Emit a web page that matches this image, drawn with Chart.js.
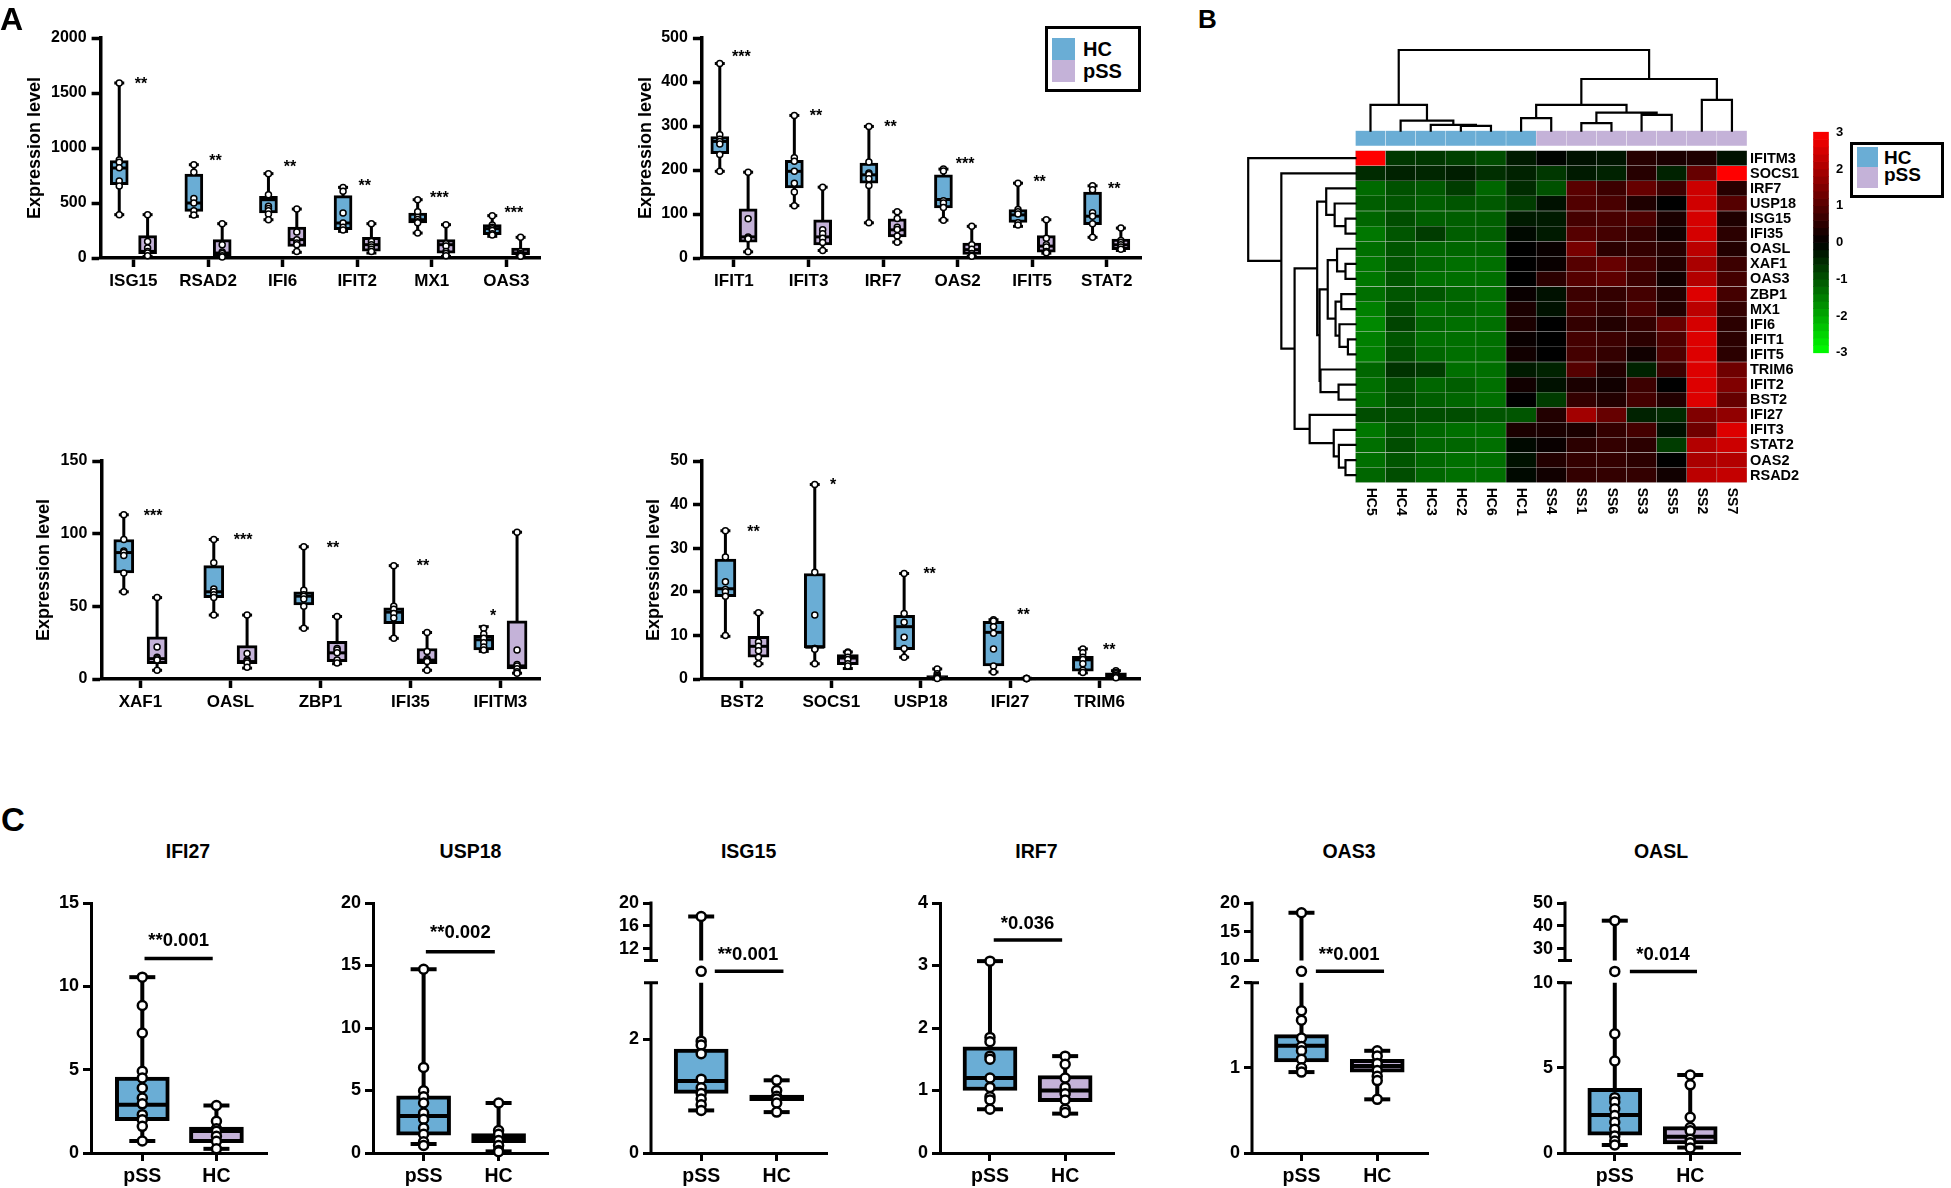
<!DOCTYPE html>
<html>
<head>
<meta charset="utf-8">
<title>ISG expression in pSS</title>
<script src="https://cdn.jsdelivr.net/npm/chart.js@4.4.1/dist/chart.umd.min.js"></script>
<style>
  body { margin: 0; width: 1951px; height: 1188px; background: #fff; position: relative; overflow: hidden;
         font-family: "Liberation Sans", Arial, sans-serif; font-weight: bold; color: #000; }
  canvas { position: absolute; }
  .txt { position: absolute; line-height: 1; white-space: nowrap; }
  .box { position: absolute; box-sizing: border-box; border: 3px solid #000; background: #fff; }
  .sw { position: absolute; }
</style>
</head>
<body>
<script>
// =================== data ===================

// box stats are [min, q1, median, q3, max]
const genesA1 = ["ISG15", "RSAD2", "IFI6", "IFIT2", "MX1", "OAS3"];
const hcBoxA1 = [[394, 667, 818, 885, 1591], [379, 424, 500, 764, 848], [348, 409, 530, 561, 767], [242, 258, 318, 567, 642], [227, 318, 348, 409, 530], [197, 212, 267, 303, 385]];
const pssBoxA1 = [[15, 40, 60, 203, 394], [10, 15, 45, 167, 312], [52, 106, 167, 282, 445], [45, 61, 121, 188, 312], [15, 45, 121, 167, 303], [15, 30, 45, 91, 188]];
const hcPtsA1 = [[1590, 890, 870, 820, 700, 655, 394], [848, 780, 542, 500, 430, 390], [767, 576, 470, 450, 430, 400, 348], [642, 606, 409, 318, 280, 255], [530, 420, 370, 350, 330, 320, 227], [385, 300, 280, 265, 250, 220, 210]];
const pssPtsA1 = [[394, 150, 90, 60, 45, 20], [312, 121, 55, 40, 20, 10], [445, 236, 167, 136, 120, 60], [312, 150, 120, 100, 80, 60], [303, 130, 110, 60, 40, 20], [188, 60, 40, 30, 20, 15]];
const starsA1 = ["**", "**", "**", "**", "***", "***"];
const starYA1 = [1621, 924, 864, 697, 582, 445];

const genesA2 = ["IFIT1", "IFIT3", "IRF7", "OAS2", "IFIT5", "STAT2"];
const hcBoxA2 = [[197, 237, 265, 276, 442], [119, 159, 197, 222, 324], [80, 170, 189, 216, 299], [86, 114, 133, 189, 202], [72, 81, 98, 110, 170], [47, 76, 95, 150, 164]];
const pssBoxA2 = [[14, 36, 48, 112, 195], [17, 30, 48, 87, 161], [36, 48, 64, 89, 105], [4, 8, 19, 34, 72], [11, 13, 27, 51, 87], [17, 19, 30, 43, 68]];
const hcPtsA2 = [[442, 280, 270, 265, 259, 235, 197], [324, 228, 220, 197, 170, 150, 119], [299, 218, 193, 190, 180, 165, 80], [202, 198, 130, 125, 115, 86], [170, 110, 105, 100, 80, 75], [164, 155, 103, 95, 78, 47]];
const pssPtsA2 = [[195, 89, 48, 45, 44, 14], [161, 64, 55, 45, 35, 17], [105, 90, 70, 65, 50, 36], [72, 30, 20, 10, 6, 4], [87, 45, 30, 25, 15, 12], [68, 40, 35, 30, 25, 20]];
const starsA2 = ["***", "**", "**", "***", "**", "**"];
const starYA2 = [466, 333, 307, 223, 182, 167];

const genesA3 = ["XAF1", "OASL", "ZBP1", "IFI35", "IFITM3"];
const hcBoxA3 = [[60, 73, 87, 96, 113], [44, 56, 60, 78, 96], [35, 51, 57, 60, 91], [28, 38, 46, 49, 78], [19, 20, 27, 30, 36]];
const pssBoxA3 = [[6, 10.5, 14, 29, 56], [7.5, 10.5, 12, 23, 44], [10.5, 12, 18, 26, 43], [6, 10.5, 13, 21, 32], [4, 7, 9, 40, 101]];
const hcPtsA3 = [[113, 96, 88, 87, 85, 73, 60], [96, 80, 62, 60, 58, 56, 44], [91, 61, 58, 57, 55, 50, 35], [78, 50, 48, 45, 42, 28], [35, 31, 28, 25, 22, 20]];
const pssPtsA3 = [[56, 22, 15, 14, 13, 6], [44, 17.5, 13, 12, 11, 8], [43, 21, 20, 18, 13, 11], [32, 19, 14, 13, 12, 6], [101, 20, 10, 9, 7, 5, 4]];
const starsA3 = ["***", "***", "**", "**", "*"];
const starYA3 = [115, 98.5, 93, 81, 46];

const genesA4 = ["BST2", "SOCS1", "USP18", "IFI27", "TRIM6"];
const hcBoxA4 = [[9.8, 18.9, 20.7, 27.5, 34], [3.5, 7.1, 7.3, 24.2, 44.6], [5, 6.7, 12, 14.6, 24.2], [1.6, 3, 10.7, 13.2, 13.6], [1.4, 1.8, 4.4, 5.2, 6.9]];
const pssBoxA4 = [[3.5, 5, 7.5, 9.8, 15.2], [2.4, 3.3, 4.8, 5.6, 6.2], [0, 0.15, 0.3, 0.8, 2.3], [0.05, 0.05, 0.1, 0.15, 0.2], [0.2, 0.5, 0.8, 1.4, 1.9]];
const hcPtsA4 = [[34, 28, 22.3, 20.5, 20, 19, 10], [44.6, 24.5, 14.7, 7, 7, 6.8, 3.5], [24.2, 15, 13, 9.6, 7, 5], [13.6, 13.3, 12, 10.5, 6.9, 3, 1.6], [6.9, 6, 5, 4.5, 3.5, 2, 1.5]];
const pssPtsA4 = [[15.2, 8.5, 7.5, 6.5, 5, 3.5], [6.2, 6, 5, 4.5, 3.5, 3], [2.3, 1.2, 0.8, 0.5, 0.3, 0.1], [0.1, 0.1, 0.1, 0.1, 0.1], [1.9, 1.5, 1.2, 0.8, 0.5, 0.3]];
const starsA4 = ["**", "*", "**", "**", "**"];
const starYA4 = [34.8, 45.4, 25, 15.6, 7.6];

// heatmap (z-scores), rows top to bottom, columns left to right
const heatCols = ["HC5", "HC4", "HC3", "HC2", "HC6", "HC1", "SS4", "SS1", "SS6", "SS3", "SS5", "SS2", "SS7"];
const heatGroups = ["HC", "HC", "HC", "HC", "HC", "HC", "pSS", "pSS", "pSS", "pSS", "pSS", "pSS", "pSS"];
const heatRows = ["IFITM3", "SOCS1", "IRF7", "USP18", "ISG15", "IFI35", "OASL", "XAF1", "OAS3", "ZBP1", "MX1", "IFI6", "IFIT1", "IFIT5", "TRIM6", "IFIT2", "BST2", "IFI27", "IFIT3", "STAT2", "OAS2", "RSAD2"];
const heatValues = [
  [3.0, -0.65, -0.65, -0.75, -0.9, -0.3, -0.05, -0.2, -0.25, 0.45, 0.3, 0.35, -0.2],
  [-0.5, -0.4, -0.45, -0.35, -0.55, -0.4, -0.65, -0.3, -0.4, 0.45, -0.4, 1.2, 3.0],
  [-1.25, -0.95, -1.05, -0.7, -1.2, -0.5, -0.95, 1.05, 0.7, 1.2, 0.7, 2.4, 0.45],
  [-1.1, -1.0, -1.1, -1.0, -1.05, -0.7, -0.2, 0.95, 0.85, 0.35, 0.0, 2.45, 1.0],
  [-1.2, -0.9, -1.1, -1.1, -1.1, -0.3, -0.3, 0.8, 0.85, 0.9, 0.3, 2.5, 0.35],
  [-1.4, -1.0, -0.7, -1.1, -1.1, -0.1, -0.3, 1.0, 0.8, 0.6, 0.2, 2.5, 0.5],
  [-1.3, -1.0, -1.2, -1.2, -1.2, 0.0, 0.1, 1.4, 0.5, 0.6, 0.45, 2.2, 0.4],
  [-1.4, -1.0, -1.2, -1.3, -1.3, 0.0, 0.1, 1.0, 1.2, 0.8, 0.4, 2.0, 0.7],
  [-1.4, -1.0, -1.3, -1.3, -1.3, 0.0, 0.5, 1.0, 1.1, 0.7, 0.2, 2.1, 0.8],
  [-1.3, -1.0, -1.0, -1.2, -1.3, 0.1, -0.2, 0.7, 0.6, 0.8, 0.4, 2.6, 0.8],
  [-1.5, -0.9, -1.3, -1.2, -1.3, 0.3, -0.2, 0.8, 0.6, 0.9, 0.4, 2.2, 0.6],
  [-1.6, -0.8, -1.2, -1.3, -1.3, 0.3, 0.0, 0.6, 0.4, 0.6, 1.2, 2.5, 0.5],
  [-1.5, -1.0, -1.3, -1.3, -1.3, 0.1, 0.0, 0.8, 0.7, 0.5, 0.9, 2.6, 0.5],
  [-1.5, -0.9, -1.2, -1.3, -1.3, 0.2, 0.0, 0.8, 0.6, 0.2, 0.9, 2.6, 0.5],
  [-1.2, -0.6, -0.7, -1.3, -1.3, -0.3, -0.4, 1.0, 0.4, -0.4, 0.7, 2.6, 1.3],
  [-1.3, -0.9, -1.2, -1.1, -1.3, 0.2, -0.2, 0.3, 0.2, 0.7, 0.0, 2.6, 1.5],
  [-1.3, -0.9, -1.1, -1.2, -1.3, 0.0, -0.7, 0.6, 0.4, 0.8, 0.4, 2.6, 1.2],
  [-0.9, -0.9, -0.9, -0.9, -1.0, -1.0, 0.4, 1.9, 1.2, -0.4, -0.5, 1.5, 1.7],
  [-1.4, -1.0, -1.2, -1.3, -1.3, 0.3, 0.3, 0.3, 0.6, 0.8, -0.2, 1.3, 2.6],
  [-1.3, -0.9, -1.2, -1.2, -1.3, -0.1, 0.1, 0.5, 0.6, 0.5, -0.7, 2.1, 2.4],
  [-1.3, -1.0, -1.2, -1.3, -1.3, -0.2, 0.4, 0.6, 0.6, 0.5, 0.0, 2.0, 2.1],
  [-1.2, -0.9, -1.2, -1.3, -1.3, -0.1, 0.2, 0.6, 0.6, 0.6, 0.2, 2.2, 2.3]
];
// merges: [nodeA, nodeB, height]; nodes < n are leaves, n + k is merge k
const colMerges = [[3, 4, 0.31], [2, 13, 0.38], [1, 14, 0.66], [0, 15, 1.70], [5, 6, 0.82], [7, 8, 0.49], [9, 10, 1.04], [18, 19, 1.19], [17, 20, 1.70], [11, 12, 2.03], [21, 22, 3.42], [16, 23, 5.34]];
const rowMerges = [[4, 5, 0.33], [3, 22, 0.69], [2, 23, 0.97], [7, 8, 0.33], [6, 25, 0.61], [9, 10, 0.47], [12, 13, 0.25], [11, 28, 0.53], [27, 29, 0.66], [26, 30, 0.92],
  [15, 16, 0.56], [14, 32, 1.16], [31, 33, 1.19], [24, 34, 1.27], [20, 21, 0.33], [19, 36, 0.55], [18, 37, 0.72], [17, 38, 1.52], [35, 39, 2.02], [1, 40, 2.46], [0, 41, 3.56]];
const scaleTicks = [-3, -2, -1, 0, 1, 2, 3];

// panel C
const cGenes = ["IFI27", "USP18", "ISG15", "IRF7", "OAS3", "OASL"];
const cCats = ["pSS", "HC"];
const cPssBox = [[0.72, 1.94, 2.9, 4.55, 10.55], [0.72, 1.42, 2.97, 4.57, 14.7], [0.75, 1.05, 1.27, 1.83, 17.65], [0.70, 1.0, 1.20, 1.70, 3.07], [0.95, 1.07, 1.26, 1.39, 18.3], [0.47, 1.04, 2.23, 3.79, 42.3]];
const cHcBox = [[0.25, 0.62, 1.32, 1.55, 2.85], [0.13, 0.83, 1.24, 1.55, 4.0], [0.72, 0.92, 0.98, 1.02, 1.28], [0.63, 0.82, 1.0, 1.24, 1.55], [0.63, 0.95, 1.02, 1.10, 1.2], [0.32, 0.53, 0.95, 1.55, 4.58]];
const cPssPts = [
  [10.55, 8.85, 7.2, 4.9, 4.5, 3.9, 3.3, 2.95, 2.3, 2.0, 1.6, 0.72],
  [14.7, 6.84, 4.98, 4.5, 4.0, 3.2, 2.7, 2.0, 1.5, 0.9, 0.6],
  [17.65, 6.55, 1.97, 1.9, 1.75, 1.3, 1.15, 1.05, 0.95, 0.85, 0.75],
  [3.07, 1.85, 1.78, 1.55, 1.5, 1.2, 1.05, 0.9, 0.85, 0.7],
  [18.3, 6.06, 1.67, 1.56, 1.35, 1.25, 1.2, 1.1, 1.0, 0.95],
  [42.3, 17.6, 7.0, 5.4, 3.25, 3.0, 2.6, 2.2, 1.8, 1.4, 1.0, 0.7, 0.47]
];
const cHcPts = [
  [2.85, 1.9, 1.45, 1.3, 1.0, 0.7, 0.25],
  [4.0, 1.8, 1.5, 1.0, 0.6, 0.2, 0.1],
  [1.28, 1.1, 1.0, 0.95, 0.88, 0.72],
  [1.55, 1.42, 1.2, 1.05, 0.95, 0.85, 0.7, 0.65],
  [1.2, 1.14, 1.05, 0.97, 0.9, 0.85, 0.63],
  [4.58, 4.0, 2.1, 1.5, 1.3, 0.8, 0.6, 0.3]
];
const cSigText = ["**0.001", "**0.002", "**0.001", "*0.036", "**0.001", "*0.014"];
const cSigBarY = [11.67, 16.1, 6.55, 3.41, 6.06, 17.6];
const cSigTextY = [12.8, 17.7, 11.2, 3.69, 11.2, 28];
const cYMax = [15, 20, 20, 4, 20, 50];
const cYTicks = [[0, 5, 10, 15], [0, 5, 10, 15, 20], [0, 2, 12, 16, 20], [0, 1, 2, 3, 4], [0, 1, 2, 10, 15, 20], [0, 5, 10, 30, 40, 50]];
const cBreaks = [null, null, { lo: [0, 3], hi: [10, 20] }, null, { lo: [0, 2], hi: [10, 20] }, { lo: [0, 10], hi: [25, 50] }];

// =================== setup ===================

const FONT = '"Liberation Sans", Arial, sans-serif';
const HC_BLUE = "#6aadd5";
const PSS_LAV = "#c4b2d8";

Chart.defaults.font.family = FONT;
Chart.defaults.font.weight = "bold";
Chart.defaults.color = "#000";
Chart.defaults.animation = false;
Chart.defaults.responsive = false;
Chart.defaults.events = [];
Chart.defaults.plugins.legend.display = false;
Chart.defaults.plugins.tooltip.enabled = false;

const BREAKS = {};

// linear scale with a gap between a low and a high segment
class BrokenScale extends Chart.LinearScale {
  getPixelForValue(v) {
    if (v === null || v === undefined || isNaN(v)) return NaN;
    const b = BREAKS[this.chart.canvas.id];
    let f;
    if (v <= b.lo[1]) f = ((v - b.lo[0]) / (b.lo[1] - b.lo[0])) * b.split[0];
    else if (v >= b.hi[0]) f = b.split[1] + ((v - b.hi[0]) / (b.hi[1] - b.hi[0])) * (1 - b.split[1]);
    else f = b.split[0] + ((v - b.lo[1]) / (b.hi[0] - b.lo[1])) * (b.split[1] - b.split[0]);
    return this.getPixelForDecimal(f);
  }
  getValueForPixel(p) {
    const b = BREAKS[this.chart.canvas.id];
    const f = this.getDecimalForPixel(p);
    if (f <= b.split[0]) return b.lo[0] + (f / b.split[0]) * (b.lo[1] - b.lo[0]);
    if (f >= b.split[1]) return b.hi[0] + ((f - b.split[1]) / (1 - b.split[1])) * (b.hi[1] - b.hi[0]);
    return b.lo[1] + ((f - b.split[0]) / (b.split[1] - b.split[0])) * (b.hi[0] - b.lo[1]);
  }
}
BrokenScale.id = "broken";
BrokenScale.defaults = Chart.LinearScale.defaults;
Chart.register(BrokenScale);

function addCanvas(id, left, top, right, bottom) {
  const c = document.createElement("canvas");
  const l = Math.round(left), t = Math.round(top);
  c.id = id;
  c.width = Math.round(right) - l;
  c.height = Math.round(bottom) - t;
  c.style.left = l + "px";
  c.style.top = t + "px";
  document.body.appendChild(c);
  return c;
}

function addText(text, x, cy, size, center) {
  const d = document.createElement("div");
  d.className = "txt";
  d.textContent = text;
  d.style.fontSize = size + "px";
  d.style.top = (cy - size * 0.49) + "px";
  d.style.left = x + "px";
  if (center) d.style.transform = "translateX(-50%)";
  document.body.appendChild(d);
}

function addDiv(cls, left, top, w, h, bg, bw) {
  const d = document.createElement("div");
  d.className = cls;
  d.style.left = left + "px";
  d.style.top = top + "px";
  d.style.width = w + "px";
  d.style.height = h + "px";
  if (bg) d.style.background = bg;
  if (bw) d.style.borderWidth = bw + "px";
  document.body.appendChild(d);
}

function zColor(z) {
  const v = Math.round((255 * Math.min(Math.abs(z), 3)) / 3);
  return z >= 0 ? `rgb(${v},0,0)` : `rgb(0,${v},0)`;
}

// text drawn at data coordinates
function notesPlugin(items) {
  return {
    id: "notes",
    afterDatasetsDraw(chart) {
      const { ctx, scales } = chart;
      ctx.save();
      ctx.fillStyle = "#000";
      ctx.textAlign = "center";
      ctx.textBaseline = "alphabetic";
      items.forEach((n) => {
        ctx.font = `bold ${n.size}px ${FONT}`;
        ctx.fillText(n.text, scales.x.getPixelForValue(n.x), scales.y.getPixelForValue(n.y) + n.size * n.lift);
      });
      ctx.restore();
    },
  };
}

const brokenAxis = {
  id: "brokenAxis",
  afterDraw(chart) {
    const b = BREAKS[chart.canvas.id];
    if (!b) return;
    const y = chart.scales.y, ctx = chart.ctx, x0 = chart.chartArea.left;
    const p0 = y.getPixelForDecimal(0), p1 = y.getPixelForDecimal(b.split[0]);
    const p2 = y.getPixelForDecimal(b.split[1]), p3 = y.getPixelForDecimal(1);
    ctx.save();
    ctx.strokeStyle = "#000";
    ctx.lineWidth = 3;
    ctx.beginPath();
    ctx.moveTo(x0, p0 + 1.5); ctx.lineTo(x0, p1);
    ctx.moveTo(x0, p2); ctx.lineTo(x0, p3 - 1.5);
    ctx.moveTo(x0 - 7, p1); ctx.lineTo(x0 + 7, p1);
    ctx.moveTo(x0 - 7, p2); ctx.lineTo(x0 + 7, p2);
    ctx.stroke();
    ctx.restore();
  },
};

// =================== box plots ===================

function boxChart(o) {
  const [l, t, r, b] = o.area;
  const padTop = 22, padRight = 12;
  const cv = addCanvas(o.id, l - o.yW, t - padTop, r + padRight, b + o.xH);
  if (o.brk) BREAKS[o.id] = o.brk;

  const whisk = [], caps = [], meds = [], pts = [];
  o.boxes.forEach((bx) => {
    const [mn, q1, md, q3, mx] = bx.s;
    if (o.brk && mx > o.brk.hi[0]) {
      whisk.push({ x: bx.x, y: mn }, { x: bx.x, y: o.brk.lo[1] }, { x: bx.x, y: null },
                 { x: bx.x, y: o.brk.hi[0] }, { x: bx.x, y: mx }, { x: bx.x, y: null });
    } else {
      whisk.push({ x: bx.x, y: mn }, { x: bx.x, y: mx }, { x: bx.x, y: null });
    }
    caps.push({ x: bx.x, y: mn }, { x: bx.x, y: mx });
    meds.push({ x: bx.x, y: md });
    bx.p.forEach((v) => pts.push({ x: bx.x, y: v }));
  });

  const datasets = [
    { type: "scatter", data: pts, pointRadius: o.pr, pointBackgroundColor: "#fff", pointBorderColor: "#000", pointBorderWidth: o.pw, order: 0, clip: false },
    { type: "scatter", data: meds, pointStyle: "line", pointRadius: o.barW / 2 - 1, pointBorderColor: "#000", pointBorderWidth: o.lw, order: 1, clip: false },
    { type: "bar", data: o.boxes.map((bx) => ({ x: bx.x, y: [bx.s[1], bx.s[3]] })), backgroundColor: o.boxes.map((bx) => bx.c),
      borderColor: "#000", borderWidth: o.lw, borderSkipped: false, barThickness: o.barW, grouped: false, order: 2 },
    { type: "scatter", data: caps, pointStyle: "line", pointRadius: o.capR, pointBorderColor: "#000", pointBorderWidth: o.lw, order: 3, clip: false },
    { type: "line", data: whisk, borderColor: "#000", borderWidth: o.lw, pointRadius: 0, spanGaps: false, order: 4, clip: false },
  ];
  if (o.sig) {
    datasets.push({ type: "line", data: [{ x: o.sig.x0, y: o.sig.y }, { x: o.sig.x1, y: o.sig.y }],
      borderColor: "#000", borderWidth: 3.5, pointRadius: 0, order: 0, clip: false });
  }

  new Chart(cv, {
    type: "bar",
    data: { datasets },
    options: {
      layout: { padding: { top: padTop, right: padRight, left: 0, bottom: 0 } },
      scales: {
        x: {
          type: "linear", min: o.xr[0], max: o.xr[1], offset: false,
          afterBuildTicks: (ax) => { ax.ticks = o.cats.map((c, i) => ({ value: i })); },
          afterFit: (ax) => { ax.height = o.xH; },
          ticks: { autoSkip: false, maxRotation: 0, padding: o.catPad, font: { size: o.catFont, weight: "bold" }, callback: (v) => o.cats[v] },
          grid: { offset: false, drawOnChartArea: false, drawTicks: true, tickLength: o.tl, tickWidth: o.aw, tickColor: "#000" },
          border: { display: true, width: o.aw, color: "#000" },
        },
        y: {
          type: o.brk ? "broken" : "linear", min: o.yr[0], max: o.yr[1],
          afterBuildTicks: (ax) => { ax.ticks = o.yTicks.map((v) => ({ value: v })); },
          afterFit: (ax) => { ax.width = o.yW; },
          ticks: { padding: o.tickPad, font: { size: o.tickFont, weight: "bold" }, callback: (v) => String(v) },
          grid: { drawOnChartArea: false, drawTicks: true, tickLength: o.tl, tickWidth: o.aw, tickColor: "#000" },
          border: { display: !o.brk, width: o.aw, color: "#000" },
          title: { display: !!o.yTitle, text: o.yTitle || "", font: { size: 18, weight: "bold" }, padding: { top: 4, bottom: 4 }, color: "#000" },
        },
      },
    },
    plugins: [notesPlugin(o.notes || []), brokenAxis],
  });
}

function pairBoxes(hcBox, pssBox, hcPts, pssPts, off) {
  const out = [];
  hcBox.forEach((s, i) => {
    out.push({ x: i - off, s, p: hcPts[i], c: HC_BLUE });
    out.push({ x: i + off, s: pssBox[i], p: pssPts[i], c: PSS_LAV });
  });
  return out;
}

function starNotes(stars, ys, dx) {
  return stars.map((t, i) => ({ x: i + dx[i], y: ys[i], text: t, size: 16, lift: 0.58 }));
}

const styleA = { aw: 3.5, tl: 9, tickPad: 5, catPad: 4, tickFont: 16, catFont: 17, capR: 5, lw: 3, pr: 3, pw: 1.5, xH: 45, yTitle: "Expression level" };

boxChart(Object.assign({}, styleA, {
  id: "a1", area: [100.8, 38.3, 540, 258.3], yW: 80.6, xr: [-0.44, 5.45], yr: [0, 2000], yTicks: [0, 500, 1000, 1500, 2000],
  cats: genesA1, barW: 18, boxes: pairBoxes(hcBoxA1, pssBoxA1, hcPtsA1, pssPtsA1, 0.19),
  notes: starNotes(starsA1, starYA1, [0.1, 0.1, 0.1, 0.1, 0.1, 0.1]),
}));
boxChart(Object.assign({}, styleA, {
  id: "a2", area: [701.8, 38.3, 1141, 258.3], yW: 70.9, xr: [-0.43, 5.46], yr: [0, 500], yTicks: [0, 100, 200, 300, 400, 500],
  cats: genesA2, barW: 18, boxes: pairBoxes(hcBoxA2, pssBoxA2, hcPtsA2, pssPtsA2, 0.19),
  notes: starNotes(starsA2, starYA2, [0.1, 0.1, 0.1, 0.1, 0.1, 0.1]),
}));
boxChart(Object.assign({}, styleA, {
  id: "a3", area: [100.8, 460.7, 540, 679.3], yW: 72.3, xr: [-0.435, 4.44], yr: [0, 150], yTicks: [0, 50, 100, 150],
  cats: genesA3, barW: 20, boxes: pairBoxes(hcBoxA3, pssBoxA3, hcPtsA3, pssPtsA3, 0.185),
  notes: starNotes(starsA3, starYA3, [0.14, 0.14, 0.14, 0.14, -0.08]),
}));
boxChart(Object.assign({}, styleA, {
  id: "a4", area: [701.8, 460.7, 1141, 679.3], yW: 63, xr: [-0.447, 4.46], yr: [0, 50], yTicks: [0, 10, 20, 30, 40, 50],
  cats: genesA4, barW: 21, boxes: pairBoxes(hcBoxA4, pssBoxA4, hcPtsA4, pssPtsA4, 0.185),
  notes: starNotes(starsA4, starYA4, [0.13, 0.02, 0.1, 0.15, 0.11]),
}));

// panel C layout
const cAreaX = [[90.5, 285.4], [372.5, 566], [650.5, 845], [939.7, 1131.6], [1252.4, 1446], [1565.3, 1758]];
const cXRange = [[-0.692, 1.682], [-0.675, 1.659], [-0.665, 1.667], [-0.665, 1.65], [-0.653, 1.67], [-0.66, 1.66]];
const cSigX = [[0.03, 0.95, 0.49], [0.03, 0.95, 0.49], [0.18, 1.09, 0.62], [0.05, 0.96, 0.5], [0.19, 1.09, 0.63], [0.2, 1.09, 0.64]];
const cTitleX = [188, 470.5, 748.6, 1036.5, 1349, 1661];

cGenes.forEach((g, k) => {
  const brk = cBreaks[k] ? Object.assign({ split: [0.6814, 0.7704] }, cBreaks[k]) : null;
  boxChart({
    id: "c" + k, area: [cAreaX[k][0], 895, cAreaX[k][1], 1153.3], yW: 60, xr: cXRange[k], yr: [0, cYMax[k]], yTicks: cYTicks[k],
    cats: cCats, brk, aw: 3, tl: 8, tickPad: 4, catPad: 4, tickFont: 18, catFont: 19.5, barW: 54, capR: 13, lw: 4, pr: 4.5, pw: 2.5, xH: 36,
    boxes: [
      { x: 0, s: cPssBox[k], p: cPssPts[k], c: HC_BLUE },
      { x: 1, s: cHcBox[k], p: cHcPts[k], c: PSS_LAV },
    ],
    sig: { x0: cSigX[k][0], x1: cSigX[k][1], y: cSigBarY[k] },
    notes: [{ x: cSigX[k][2], y: cSigTextY[k], text: cSigText[k], size: 18.5, lift: 0.36 }],
  });
  addText(g, cTitleX[k], 851.7, 19.5, true);
});

// =================== heatmap ===================

const STRIP = [22.31, 23.33];

function dendro(n, merges, leafPos) {
  const pos = [], hgt = [], segs = [];
  for (let i = 0; i < n; i++) { pos.push(leafPos(i)); hgt.push(0); }
  merges.forEach(([a, b, h]) => {
    segs.push([[pos[a], hgt[a]], [pos[a], h], [pos[b], h], [pos[b], hgt[b]]]);
    pos.push((pos[a] + pos[b]) / 2);
    hgt.push(h);
  });
  return segs;
}

const colTree = [];
dendro(heatCols.length, colMerges, (j) => j + 0.5).forEach((seg) => {
  seg.forEach(([p, h]) => colTree.push({ x: p, y: STRIP[1] + h }));
  colTree.push({ x: seg[0][0], y: null });
});
const rowTree = [];
dendro(heatRows.length, rowMerges, (r) => heatRows.length - 0.5 - r).forEach((seg) => {
  seg.forEach(([p, h]) => rowTree.push({ x: -h, y: p }));
  rowTree.push({ x: 0, y: null });
});

const heatDatasets = [
  { type: "line", data: colTree, borderColor: "#000", borderWidth: 2.2, pointRadius: 0, spanGaps: false, clip: false, order: 0, borderJoinStyle: "miter", borderCapStyle: "square" },
  { type: "line", data: rowTree, borderColor: "#000", borderWidth: 2.2, pointRadius: 0, spanGaps: false, clip: false, order: 0, borderJoinStyle: "miter", borderCapStyle: "square" },
  { type: "bar", data: heatCols.map((c, j) => ({ x: j + 0.5, y: STRIP })), backgroundColor: heatGroups.map((g) => (g === "HC" ? HC_BLUE : PSS_LAV)),
    borderColor: "rgba(255,255,255,0.45)", borderWidth: 0.5, borderSkipped: false, grouped: false, barPercentage: 1, categoryPercentage: 1, order: 2 },
];
heatValues.forEach((row, r) => {
  const y0 = heatRows.length - 1 - r;
  heatDatasets.push({
    type: "bar", data: row.map((z, j) => ({ x: j + 0.5, y: [y0, y0 + 1] })), backgroundColor: row.map(zColor),
    borderColor: "rgba(140,140,140,0.3)", borderWidth: 0.5, borderSkipped: false, grouped: false, barPercentage: 1, categoryPercentage: 1, order: 2,
  });
});

const heatLabels = {
  id: "heatLabels",
  afterDraw(chart) {
    const { ctx, scales: { x, y } } = chart;
    ctx.save();
    ctx.fillStyle = "#000";
    ctx.textAlign = "left";
    ctx.textBaseline = "middle";
    ctx.font = "bold 14.5px " + FONT;
    heatRows.forEach((name, r) => {
      ctx.fillText(name, x.getPixelForValue(heatCols.length) + 3, y.getPixelForValue(heatRows.length - 0.5 - r) + 0.5);
    });
    ctx.font = "bold 14px " + FONT;
    heatCols.forEach((name, j) => {
      ctx.save();
      ctx.translate(x.getPixelForValue(j + 0.5), y.getPixelForValue(0) + 5);
      ctx.rotate(Math.PI / 2);
      ctx.fillText(name, 0, 0);
      ctx.restore();
    });
    ctx.restore();
  },
};

new Chart(addCanvas("hm", 1240, 40, 1812, 530), {
  type: "bar",
  data: { datasets: heatDatasets },
  options: {
    layout: { padding: { left: 7, right: 65, top: 10, bottom: 47.3 } },
    scales: {
      x: { type: "linear", display: false, min: -3.6, max: 13, offset: false, grid: { offset: false },
           afterBuildTicks: (ax) => { ax.ticks = heatCols.map((c, j) => ({ value: j + 0.5 })); } },
      y: { type: "linear", display: false, min: 0, max: 28.67 },
    },
  },
  plugins: [heatLabels],
});

// colour key
const keySteps = [];
for (let v = -3; v < 2.999; v += 0.2) keySteps.push(v);
new Chart(addCanvas("key", 1807, 110, 1875, 380), {
  type: "bar",
  data: {
    datasets: [{ data: keySteps.map((v) => ({ x: 0, y: [v, v + 0.2] })), backgroundColor: keySteps.map((v) => zColor(v + 0.1)),
      borderWidth: 0, barThickness: 15, grouped: false }],
  },
  options: {
    layout: { padding: { top: 20, bottom: 25, left: 0, right: 0 } },
    scales: {
      x: { type: "linear", display: false, min: -1, max: 1, offset: false, grid: { offset: false } },
      y: { position: "right", min: -3.06, max: 3.06,
           afterBuildTicks: (ax) => { ax.ticks = scaleTicks.map((v) => ({ value: v })); },
           afterFit: (ax) => { ax.width = 40; },
           ticks: { padding: 1, font: { size: 13, weight: "bold" }, callback: (v) => String(v) },
           grid: { display: false, drawTicks: false }, border: { display: false } },
    },
  },
});

// =================== legends and labels ===================

addDiv("box", 1045, 26, 96, 66, "#fff", 3);
addDiv("sw", 1052, 37.5, 23, 22.5, HC_BLUE);
addDiv("sw", 1052, 60, 23, 22, PSS_LAV);
addText("HC", 1083, 49, 20);
addText("pSS", 1083, 70.5, 20);

addDiv("box", 1850, 141.7, 93.5, 56, "#fff", 3.5);
addDiv("sw", 1856.5, 146.5, 21.5, 20.5, HC_BLUE);
addDiv("sw", 1856.5, 167, 21.5, 21, PSS_LAV);
addText("HC", 1884, 157, 19);
addText("pSS", 1884, 174.5, 19);

addText("A", 0, 18.5, 32);
addText("B", 1198, 19, 26);
addText("C", 1, 819, 33);
</script>
</body>
</html>
